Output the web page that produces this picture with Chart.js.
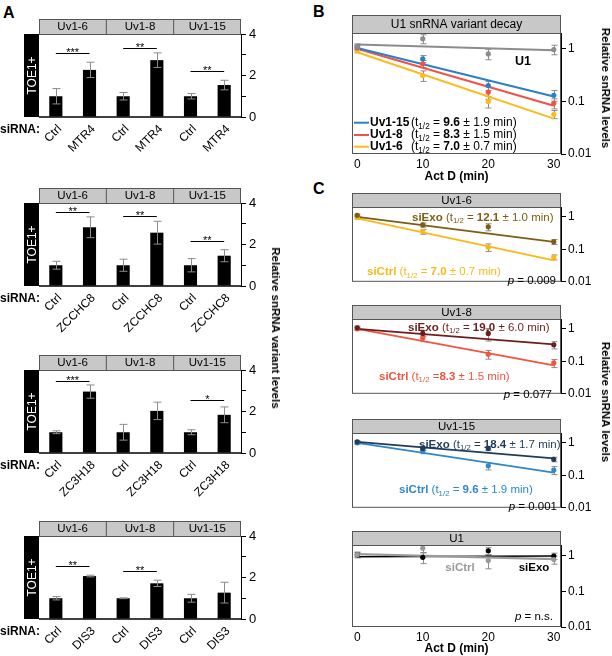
<!DOCTYPE html>
<html><head><meta charset="utf-8">
<script src="https://cdn.jsdelivr.net/npm/chart.js@4.4.1/dist/chart.umd.min.js"></script>
<style>
body{margin:0;background:#fff;width:612px;height:656px;position:relative;overflow:hidden;font-family:"Liberation Sans",Arial,sans-serif;}
.lt{position:absolute;font-weight:bold;font-size:16px;line-height:16px;color:#000;}
.vt{position:absolute;white-space:nowrap;font-weight:bold;font-size:11.5px;color:#000;transform:translate(-50%,-50%) rotate(90deg);will-change:transform;}
</style></head><body>
<div class="lt" style="left:3px;top:5px">A</div>
<div class="lt" style="left:313px;top:4px">B</div>
<div class="lt" style="left:313px;top:181px">C</div>
<div class="vt" style="left:276px;top:328px">Relative snRNA variant levels</div>
<div class="vt" style="left:606px;top:88px">Relative snRNA levels</div>
<div class="vt" style="left:606px;top:402px">Relative snRNA levels</div>
<script>
// ---------------- DATA ----------------
const groups = ['Uv1-6', 'Uv1-8', 'Uv1-15'];
const yTicksA = [0, 1, 2, 3, 4];

const mtr4Labels = ['Ctrl', 'MTR4', 'Ctrl', 'MTR4', 'Ctrl', 'MTR4'];
const mtr4Values = [1.0, 2.27, 1.0, 2.74, 1.0, 1.54];
const mtr4Errors = [0.37, 0.37, 0.18, 0.35, 0.13, 0.23];
const mtr4SigGroup = [0, 1, 2];
const mtr4SigLevel = [3.08, 3.32, 2.23];
const mtr4SigText = ['***', '**', '**'];

const zcchc8Labels = ['Ctrl', 'ZCCHC8', 'Ctrl', 'ZCCHC8', 'Ctrl', 'ZCCHC8'];
const zcchc8Values = [1.0, 2.83, 1.0, 2.57, 1.0, 1.46];
const zcchc8Errors = [0.19, 0.5, 0.29, 0.55, 0.32, 0.29];
const zcchc8SigGroup = [0, 1, 2];
const zcchc8SigLevel = [3.57, 3.37, 2.17];
const zcchc8SigText = ['**', '**', '**'];

const zc3h18Labels = ['Ctrl', 'ZC3H18', 'Ctrl', 'ZC3H18', 'Ctrl', 'ZC3H18'];
const zc3h18Values = [1.0, 2.96, 1.0, 2.03, 1.0, 1.84];
const zc3h18Errors = [0.07, 0.32, 0.38, 0.42, 0.12, 0.38];
const zc3h18SigGroup = [0, 2];
const zc3h18SigLevel = [3.46, 2.54];
const zc3h18SigText = ['***', '*'];

const dis3Labels = ['Ctrl', 'DIS3', 'Ctrl', 'DIS3', 'Ctrl', 'DIS3'];
const dis3Values = [1.0, 2.07, 1.0, 1.72, 1.0, 1.27];
const dis3Errors = [0.08, 0.04, 0.02, 0.15, 0.19, 0.5];
const dis3SigGroup = [0, 1];
const dis3SigLevel = [2.54, 2.29];
const dis3SigText = ['**', '**'];

const actD = [0, 10, 20, 30];
const fitT = [0, 30];
const logTicks = [0.01, 0.1, 1];

// Panel B
const bU1 = [1.09, 1.55, 0.80, 0.97];
const bU1Err = [0.15, 0.3, 0.18, 0.2];
const bU1Fit = [1.21, 0.94];
const bUv15 = [1.09, 0.645, 0.20, 0.131];
const bUv15Err = [0.1, 0.1, 0.04, 0.03];
const bUv15Fit = [1.04, 0.124];
const bUv8 = [1.04, 0.52, 0.15, 0.092];
const bUv8Err = [0.1, 0.08, 0.04, 0.02];
const bUv8Fit = [1.0, 0.083];
const bUv6 = [0.94, 0.31, 0.10, 0.057];
const bUv6Err = [0.1, 0.07, 0.025, 0.01];
const bUv6Fit = [0.86, 0.047];
const bNames = ['Uv1-15', 'Uv1-8', 'Uv1-6'];
const bHalf = ['9.6', '8.3', '7.0'];
const bHalfErr = ['1.9', '1.5', '0.7'];

// Panel C
const cTitles = ['Uv1-6', 'Uv1-8', 'Uv1-15', 'U1'];
const c1Exo = [1.11, 0.56, 0.49, 0.17];
const c1ExoErr = [0.1, 0.08, 0.12, 0.03];
const c1ExoFit = [1.0, 0.17];
const c1Ctrl = [0.95, 0.35, 0.116, 0.057];
const c1CtrlErr = [0.1, 0.06, 0.03, 0.01];
const c1CtrlFit = [0.89, 0.046];

const c2Exo = [1.07, 0.72, 0.72, 0.32];
const c2ExoErr = [0.15, 0.15, 0.3, 0.08];
const c2ExoFit = [1.0, 0.33];
const c2Ctrl = [1.0, 0.52, 0.166, 0.089];
const c2CtrlErr = [0.1, 0.12, 0.05, 0.025];
const c2CtrlFit = [1.0, 0.075];

const c3Exo = [1.07, 0.67, 0.67, 0.31];
const c3ExoErr = [0.12, 0.08, 0.1, 0.05];
const c3ExoFit = [1.07, 0.33];
const c3Ctrl = [1.0, 0.56, 0.196, 0.145];
const c3CtrlErr = [0.1, 0.1, 0.05, 0.04];
const c3CtrlFit = [1.0, 0.12];

const c4Ctrl = [1.07, 1.63, 0.73, 0.78];
const c4CtrlErr = [0.15, 0.4, 0.3, 0.2];
const c4CtrlFit = [1.11, 0.8];
const c4Exo = [1.07, 0.9, 1.38, 0.98];
const c4ExoErr = [0.2, 0.3, 0.3, 0.2];
const c4ExoFit = [0.94, 0.98];

const cExoHalf = ['12.1', '19.0', '18.4'];
const cExoHalfErr = ['1.0', '6.0', '1.7'];
const cCtrlHalf = ['7.0', '8.3', '9.6'];
const cCtrlHalfErr = ['0.7', '1.5', '1.9'];
const cP = ['0.009', '0.077', '0.001', 'n.s.'];

// ---------------- HELPERS ----------------
const FAM = '"Liberation Sans", Arial, sans-serif';
Chart.defaults.font.family = FAM;
Chart.defaults.color = '#000';
const ERR = '#8c8c8c';

function mk(left, top, w, h) {
  const c = document.createElement('canvas');
  c.width = w; c.height = h;
  c.style.cssText = `position:absolute;left:${left}px;top:${top}px;width:${w}px;height:${h}px`;
  document.body.appendChild(c);
  return c;
}

function rich(ctx, x, y, parts, size, color, align) {
  let w = 0;
  const segs = parts.map(p => {
    const fs = p.sub ? size * 0.68 : size;
    const f = `${p.i ? 'italic ' : ''}${p.b ? 'bold ' : ''}${fs}px ${FAM}`;
    ctx.font = f;
    const mw = ctx.measureText(p.t).width;
    w += mw;
    return { p, f, mw };
  });
  let cx = align === 'right' ? x - w : align === 'center' ? x - w / 2 : x;
  ctx.save();
  ctx.fillStyle = color; ctx.textBaseline = 'middle'; ctx.textAlign = 'left';
  segs.forEach(s => { ctx.font = s.f; ctx.fillText(s.p.t, cx, s.p.sub ? y + size * 0.3 : y); cx += s.mw; });
  ctx.restore();
}

function halfParts(name, half, err, eqSpace) {
  return [{ t: name, b: true }, { t: ' (t' }, { t: '1/2', sub: true }, { t: eqSpace ? ' = ' : ' =' },
          { t: half, b: true }, { t: ' \u00b1 ' + err + ' min)' }];
}

function headerPlugin(labels, h, size) {
  return {
    id: 'hdr',
    afterDraw(chart) {
      const { ctx, chartArea: ca } = chart;
      const y0 = ca.top - h;
      const n = labels.length, cw = ca.width / n;
      ctx.save();
      ctx.fillStyle = '#c8c8c8';
      ctx.fillRect(ca.left, y0, ca.width, h);
      ctx.strokeStyle = '#555'; ctx.lineWidth = 1;
      ctx.strokeRect(ca.left + 0.5, y0 + 0.5, ca.width - 1, h);
      for (let i = 1; i < n; i++) {
        ctx.beginPath(); ctx.moveTo(ca.left + i * cw, y0); ctx.lineTo(ca.left + i * cw, ca.top); ctx.stroke();
      }
      ctx.fillStyle = '#000'; ctx.font = `${size}px ${FAM}`; ctx.textAlign = 'center'; ctx.textBaseline = 'middle';
      labels.forEach((l, i) => ctx.fillText(l, ca.left + (i + 0.5) * cw, y0 + h / 2 + 0.5));
      ctx.restore();
    }
  };
}

function errBar(ctx, x, yTop, yBot, cap) {
  ctx.beginPath();
  ctx.moveTo(x, yTop); ctx.lineTo(x, yBot);
  ctx.moveTo(x - cap / 2, yTop); ctx.lineTo(x + cap / 2, yTop);
  ctx.moveTo(x - cap / 2, yBot); ctx.lineTo(x + cap / 2, yBot);
  ctx.stroke();
}

// ---------------- PANEL A ----------------
function barChart(plotTop, labels, values, errors, sigG, sigL, sigT) {
  const padTop = 34, plotH = 83, xH = 48;
  const c = mk(0, plotTop - padTop, 300, padTop + plotH + xH);
  new Chart(c, {
    type: 'bar',
    data: { labels, datasets: [{ data: values, backgroundColor: '#000', barPercentage: 0.39, categoryPercentage: 1 }] },
    options: {
      responsive: false, animation: false, devicePixelRatio: 1,
      layout: { padding: { left: 39, top: padTop, right: 0, bottom: 0 } },
      plugins: { legend: { display: false }, tooltip: { enabled: false } },
      scales: {
        x: {
          grid: { display: false, drawTicks: false }, border: { display: false },
          ticks: { color: '#000', font: { size: 12 }, minRotation: 45, maxRotation: 45, autoSkip: false, padding: 5, labelOffset: 4 },
          afterFit: s => { s.height = xH; }
        },
        y: {
          position: 'right', min: 0, max: 4,
          afterBuildTicks: s => { s.ticks = yTicksA.map(v => ({ value: v })); },
          ticks: { color: '#000', font: { size: 13 }, padding: 3, callback: v => (v % 2 === 0 ? String(v) : '') },
          grid: { drawOnChartArea: false, drawTicks: true, tickLength: 5, color: '#000' },
          border: { display: true, color: '#000', width: 1 },
          afterFit: s => { s.width = 59; }
        }
      }
    },
    plugins: [headerPlugin(groups, 15, 11.5), {
      id: 'extraA',
      beforeDatasetsDraw(chart) {
        const { ctx, chartArea: ca } = chart;
        ctx.save();
        ctx.fillStyle = '#000';
        ctx.fillRect(24, ca.top, ca.left - 24, ca.bottom - ca.top);
        ctx.translate((24 + ca.left) / 2, (ca.top + ca.bottom) / 2);
        ctx.rotate(-Math.PI / 2);
        ctx.fillStyle = '#fff'; ctx.font = `12px ${FAM}`; ctx.textAlign = 'center'; ctx.textBaseline = 'middle';
        ctx.fillText('TOE1+', 0, 1);
        ctx.restore();
        ctx.save();
        ctx.strokeStyle = '#555'; ctx.lineWidth = 1;
        ctx.beginPath(); ctx.moveTo(ca.left, ca.top + 0.5); ctx.lineTo(ca.right, ca.top + 0.5); ctx.stroke();
        ctx.restore();
      },
      afterDatasetsDraw(chart) {
        const { ctx, chartArea: ca } = chart;
        const meta = chart.getDatasetMeta(0);
        const ys = chart.scales.y;
        ctx.save();
        ctx.strokeStyle = ERR; ctx.lineWidth = 1;
        meta.data.forEach((b, i) => {
          errBar(ctx, Math.round(b.x) + 0.5, ys.getPixelForValue(values[i] + errors[i]), ys.getPixelForValue(values[i] - errors[i]), 8);
        });
        // axis baseline
        ctx.strokeStyle = '#000'; ctx.lineWidth = 1.5;
        ctx.beginPath(); ctx.moveTo(ca.left, ca.bottom); ctx.lineTo(ca.right, ca.bottom); ctx.stroke();
        // significance
        ctx.lineWidth = 1; ctx.strokeStyle = '#000'; ctx.fillStyle = '#000';
        ctx.font = `11px ${FAM}`; ctx.textAlign = 'center'; ctx.textBaseline = 'alphabetic';
        sigG.forEach((g, k) => {
          const x1 = meta.data[g * 2].x, x2 = meta.data[g * 2 + 1].x;
          const y = Math.round(ys.getPixelForValue(sigL[k])) + 0.5;
          ctx.beginPath(); ctx.moveTo(x1, y); ctx.lineTo(x2, y); ctx.stroke();
          ctx.fillText(sigT[k], (x1 + x2) / 2, y + 2);
        });
        // siRNA label
        ctx.font = `bold 12px ${FAM}`; ctx.textAlign = 'left'; ctx.textBaseline = 'middle';
        ctx.fillText('siRNA:', 0, ca.bottom + 12.5);
        ctx.restore();
      }
    }]
  });
}

barChart(33.5, mtr4Labels, mtr4Values, mtr4Errors, mtr4SigGroup, mtr4SigLevel, mtr4SigText);
barChart(202.5, zcchc8Labels, zcchc8Values, zcchc8Errors, zcchc8SigGroup, zcchc8SigLevel, zcchc8SigText);
barChart(369.5, zc3h18Labels, zc3h18Values, zc3h18Errors, zc3h18SigGroup, zc3h18SigLevel, zc3h18SigText);
barChart(535.5, dis3Labels, dis3Values, dis3Errors, dis3SigGroup, dis3SigLevel, dis3SigText);

// ---------------- PANELS B & C ----------------
function pts(vals, err, color) {
  return { type: 'line', data: actD.map((t, i) => ({ x: t, y: vals[i] })), err, showLine: false,
           pointRadius: 2.6, pointBackgroundColor: color, pointBorderWidth: 0, order: 0 };
}
function fit(vals, color, w) {
  return { type: 'line', data: fitT.map((t, i) => ({ x: t, y: vals[i] })), borderColor: color,
           borderWidth: w || 2, pointRadius: 0, order: 1 };
}

function logChart(o) {
  const padTop = o.headerH + 6;
  const xH = o.showX ? o.xH : 2;
  const c = mk(300, o.top - padTop, 300, padTop + o.plotH + xH);
  new Chart(c, {
    type: 'line',
    data: { datasets: o.datasets },
    options: {
      responsive: false, animation: false, devicePixelRatio: 1,
      layout: { padding: { left: 52, top: padTop, right: 0, bottom: 0 } },
      plugins: { legend: { display: false }, tooltip: { enabled: false } },
      scales: {
        x: {
          type: 'linear', min: -0.8, max: 31.1,
          afterBuildTicks: s => { s.ticks = actD.map(v => ({ value: v })); },
          grid: { display: false, drawTicks: false }, border: { display: false },
          ticks: { display: o.showX, padding: 3.5, font: { size: 12 }, color: '#000', maxRotation: 0 },
          afterFit: s => { s.height = xH; }
        },
        y: {
          type: 'logarithmic', position: 'right', min: 0.01, max: 2,
          afterBuildTicks: s => { s.ticks = logTicks.map(v => ({ value: v })); },
          ticks: { callback: v => String(v), font: { size: 12 }, padding: 2, color: '#000' },
          grid: { drawOnChartArea: false, drawTicks: true, tickLength: 5, color: '#000' },
          border: { display: true, color: '#000', width: 1 },
          afterFit: s => { s.width = 39; }
        }
      }
    },
    plugins: [headerPlugin([o.title], o.headerH, o.titleSize), {
      id: 'extraL',
      beforeDatasetsDraw(chart) {
        const { ctx, chartArea: ca } = chart;
        const xs = chart.scales.x, ys = chart.scales.y;
        ctx.save();
        ctx.strokeStyle = '#555'; ctx.lineWidth = 1;
        ctx.strokeRect(ca.left + 0.5, ca.top + 0.5, ca.width - 1, ca.height - 1);
        ctx.strokeStyle = ERR;
        chart.data.datasets.forEach(ds => {
          if (!ds.err) return;
          ds.data.forEach((p, i) => {
            const lo = Math.max(p.y - ds.err[i], 0.011);
            errBar(ctx, Math.round(xs.getPixelForValue(p.x)) + 0.5, ys.getPixelForValue(p.y + ds.err[i]), ys.getPixelForValue(lo), 6);
          });
        });
        ctx.restore();
      },
      afterDatasetsDraw(chart) {
        const { ctx, chartArea: ca } = chart;
        o.annot(ctx, ca);
        if (o.showX) {
          rich(ctx, (ca.left + ca.right) / 2, ca.bottom + o.titleOff, [{ t: 'Act D (min)', b: true }], 12, '#000', 'center');
        }
      }
    }]
  });
}

// Panel B
const blue = '#2b80c5', red = '#f0524a', yellow = '#fdbb1a', gray = '#8c8c8c';
logChart({
  top: 33.3, plotH: 121, headerH: 18, title: 'U1 snRNA variant decay', titleSize: 12, showX: true, xH: 32, titleOff: 22.5,
  datasets: [
    fit(bU1Fit, gray), fit(bUv15Fit, blue), fit(bUv8Fit, red), fit(bUv6Fit, yellow),
    pts(bU1, bU1Err, gray), pts(bUv15, bUv15Err, blue), pts(bUv8, bUv8Err, red), pts(bUv6, bUv6Err, yellow)
  ],
  annot(ctx, ca) {
    rich(ctx, ca.left + 171, ca.top + 29, [{ t: 'U1', b: true }], 12.5, '#000', 'center');
    const cols = [blue, red, yellow];
    const rows = [89.7, 102, 113.7];
    rows.forEach((ry, i) => {
      const y = ca.top + ry;
      ctx.save(); ctx.strokeStyle = cols[i]; ctx.lineWidth = 2;
      ctx.beginPath(); ctx.moveTo(ca.left + 2, y); ctx.lineTo(ca.left + 17, y); ctx.stroke(); ctx.restore();
      rich(ctx, ca.left + 18, y, [{ t: bNames[i], b: true }], 12, '#000', 'left');
      rich(ctx, ca.left + 59, y, [{ t: '(t' }, { t: '1/2', sub: true }, { t: ' = ' }, { t: bHalf[i], b: true }, { t: ' \u00b1 ' + bHalfErr[i] + ' min)' }], 12, '#000', 'left');
    });
  }
});

// Panel C
const c1ExoCol = '#7d5d14', c2ExoCol = '#6e1d1d', c3ExoCol = '#1f3c5c';
const c1CtrlCol = '#fbb817', c2CtrlCol = '#f2553f', c3CtrlCol = '#2e88c9';
const cTop = [206.5, 318.5, 432.5, 544.5];

logChart({
  top: cTop[0], plotH: 82, headerH: 14, title: cTitles[0], titleSize: 11.5, showX: false,
  datasets: [fit(c1ExoFit, c1ExoCol, 1.8), fit(c1CtrlFit, c1CtrlCol, 1.8), pts(c1Exo, c1ExoErr, c1ExoCol), pts(c1Ctrl, c1CtrlErr, c1CtrlCol)],
  annot(ctx, ca) {
    rich(ctx, ca.left + 60, ca.top + 10.5, halfParts('siExo', cExoHalf[0], cExoHalfErr[0], true), 11.5, c1ExoCol, 'left');
    rich(ctx, ca.left + 15, ca.top + 65, halfParts('siCtrl', cCtrlHalf[0], cCtrlHalfErr[0], true), 11.5, c1CtrlCol, 'left');
    rich(ctx, ca.right - 5, ca.top + 73.5, [{ t: 'p', i: true }, { t: ' = ' + cP[0] }], 11.5, '#000', 'right');
  }
});
logChart({
  top: cTop[1], plotH: 82, headerH: 14, title: cTitles[1], titleSize: 11.5, showX: false,
  datasets: [fit(c2ExoFit, c2ExoCol, 1.8), fit(c2CtrlFit, c2CtrlCol, 1.8), pts(c2Exo, c2ExoErr, c2ExoCol), pts(c2Ctrl, c2CtrlErr, c2CtrlCol)],
  annot(ctx, ca) {
    rich(ctx, ca.left + 56, ca.top + 8.5, halfParts('siExo', cExoHalf[1], cExoHalfErr[1], true), 11.5, c2ExoCol, 'left');
    rich(ctx, ca.left + 27, ca.top + 57.5, halfParts('siCtrl', cCtrlHalf[1], cCtrlHalfErr[1], false), 11.5, c2CtrlCol, 'left');
    rich(ctx, ca.right - 9, ca.top + 75.5, [{ t: 'p', i: true }, { t: ' = ' + cP[1] }], 11.5, '#000', 'right');
  }
});
logChart({
  top: cTop[2], plotH: 82, headerH: 14, title: cTitles[2], titleSize: 11.5, showX: false,
  datasets: [fit(c3ExoFit, c3ExoCol, 1.8), fit(c3CtrlFit, c3CtrlCol, 1.8), pts(c3Exo, c3ExoErr, c3ExoCol), pts(c3Ctrl, c3CtrlErr, c3CtrlCol)],
  annot(ctx, ca) {
    rich(ctx, ca.left + 67, ca.top + 11.5, halfParts('siExo', cExoHalf[2], cExoHalfErr[2], true), 11.5, c3ExoCol, 'left');
    rich(ctx, ca.left + 47, ca.top + 57, halfParts('siCtrl', cCtrlHalf[2], cCtrlHalfErr[2], true), 11.5, c3CtrlCol, 'left');
    rich(ctx, ca.right - 4, ca.top + 73.5, [{ t: 'p', i: true }, { t: ' = ' + cP[2] }], 11.5, '#000', 'right');
  }
});
logChart({
  top: cTop[3], plotH: 82, headerH: 14, title: cTitles[3], titleSize: 11.5, showX: true, xH: 30, titleOff: 21.5,
  datasets: [fit(c4CtrlFit, '#9a9a9a', 2.2), fit(c4ExoFit, '#000', 1.6), pts(c4Ctrl, c4CtrlErr, '#9a9a9a'), pts(c4Exo, c4ExoErr, '#000')],
  annot(ctx, ca) {
    rich(ctx, ca.left + 108, ca.top + 23, [{ t: 'siCtrl', b: true }], 11.5, '#9a9a9a', 'center');
    rich(ctx, ca.left + 182, ca.top + 23, [{ t: 'siExo', b: true }], 11.5, '#000', 'center');
    rich(ctx, ca.right - 8, ca.top + 72, [{ t: 'p', i: true }, { t: ' = ' + cP[3] }], 11.5, '#000', 'right');
  }
});
</script>
</body></html>
